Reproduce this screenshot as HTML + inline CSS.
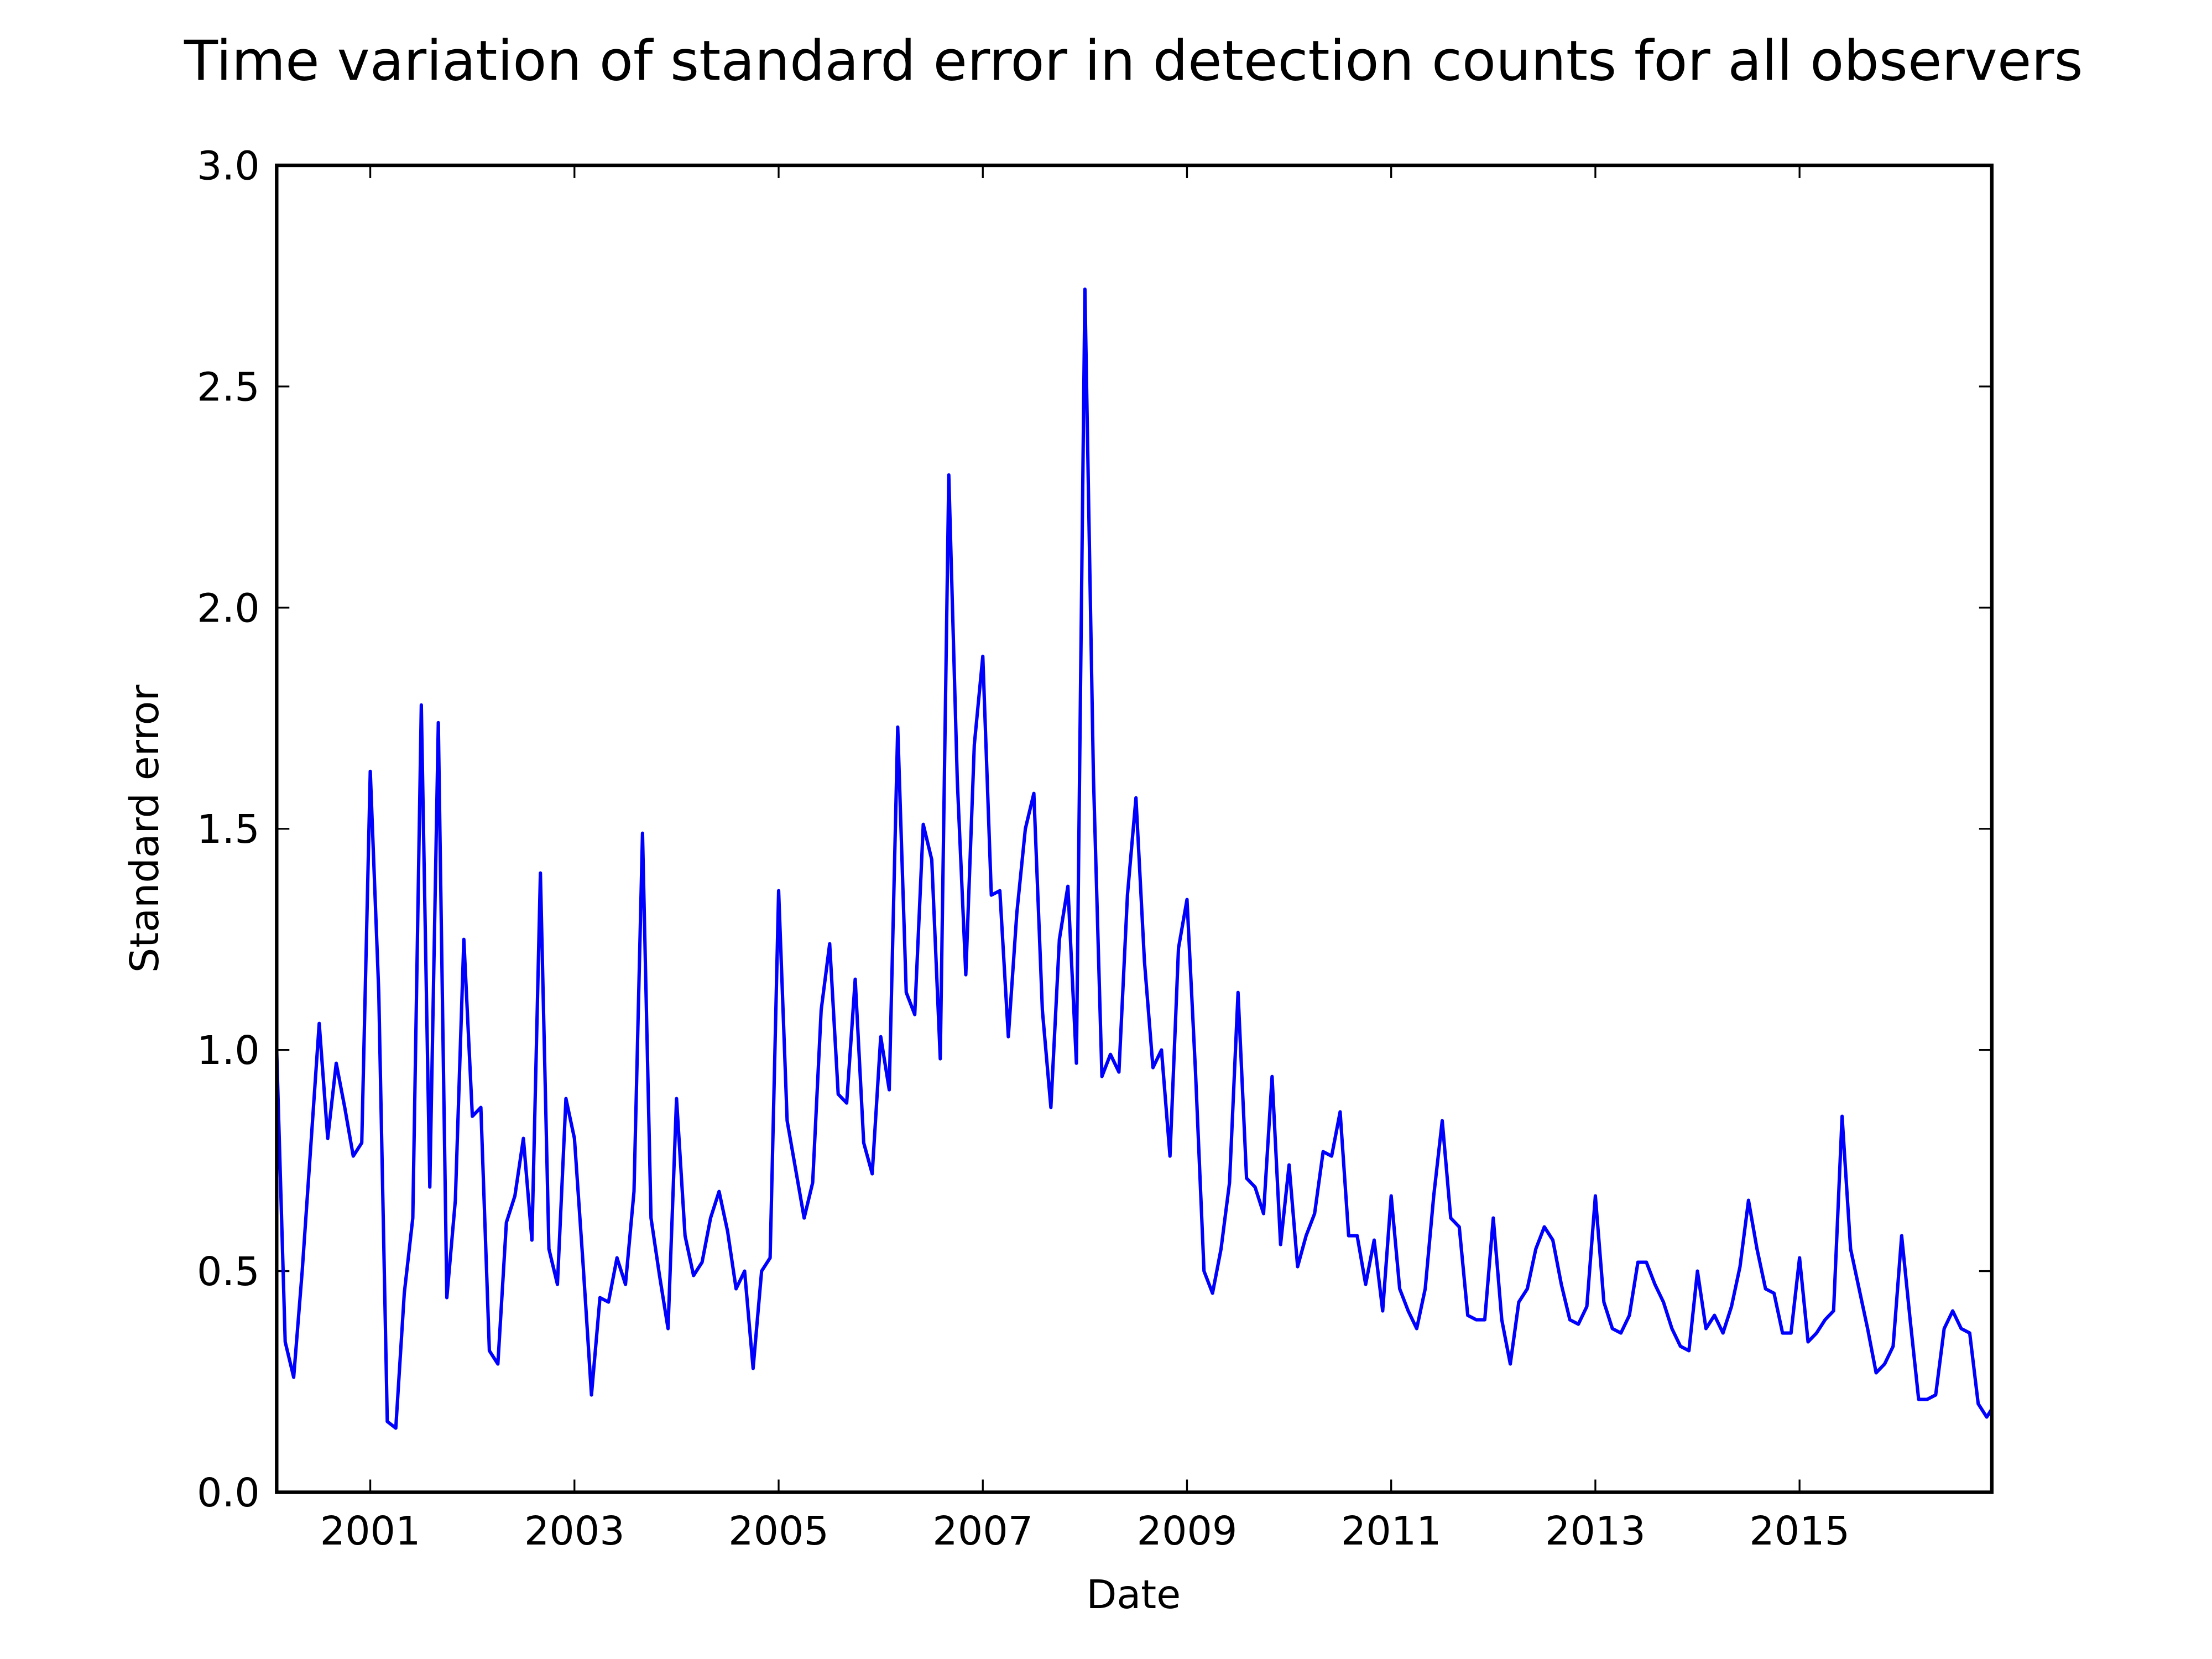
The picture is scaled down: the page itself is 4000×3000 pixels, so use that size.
<!DOCTYPE html>
<html><head><meta charset="utf-8"><style>
html,body{margin:0;padding:0;background:#fff;}
svg{display:block;}
text{font-family:"DejaVu Sans","Liberation Sans",sans-serif;fill:#000;}
</style></head><body>
<svg id="chart" width="4000" height="3000" viewBox="0 0 1567 1175" xmlns="http://www.w3.org/2000/svg">
<rect width="1567" height="1175" fill="#fff"/>
<text x="803" y="56.5" font-size="39.2" text-anchor="middle">Time variation of standard error in detection counts for all observers</text>
<text x="803" y="1139" font-size="28" text-anchor="middle">Date</text>
<text transform="translate(112,587) rotate(-90)" font-size="28" text-anchor="middle">Standard error</text>
<g id="ticks"></g>
<g id="series"></g>
<rect x="196" y="117" width="1215" height="940" fill="none" stroke="#000" stroke-width="2.5"/>
</svg>
<script>
const startYear = 2000 + 1/12;
const values = [1.0,0.34,0.26,0.5,0.78,1.06,0.80,0.97,0.87,0.76,0.79,1.63,1.13,0.16,0.145,0.45,0.62,1.78,0.69,1.74,0.44,0.66,1.25,0.85,0.87,0.32,0.29,0.61,0.67,0.80,0.57,1.40,0.55,0.47,0.89,0.80,0.52,0.22,0.44,0.43,0.53,0.47,0.68,1.49,0.62,0.49,0.37,0.89,0.58,0.49,0.52,0.62,0.68,0.59,0.46,0.50,0.28,0.50,0.53,1.36,0.84,0.73,0.62,0.70,1.09,1.24,0.90,0.88,1.16,0.79,0.72,1.03,0.91,1.73,1.13,1.08,1.51,1.43,0.98,2.30,1.61,1.17,1.69,1.89,1.35,1.36,1.03,1.31,1.50,1.58,1.09,0.87,1.25,1.37,0.97,2.72,1.62,0.94,0.99,0.95,1.35,1.57,1.20,0.96,1.00,0.76,1.23,1.34,0.95,0.50,0.45,0.55,0.70,1.13,0.71,0.69,0.63,0.94,0.56,0.74,0.51,0.58,0.63,0.77,0.76,0.86,0.58,0.58,0.47,0.57,0.41,0.67,0.46,0.41,0.37,0.46,0.67,0.84,0.62,0.60,0.40,0.39,0.39,0.62,0.39,0.29,0.43,0.46,0.55,0.60,0.57,0.47,0.39,0.38,0.42,0.67,0.43,0.37,0.36,0.40,0.52,0.52,0.47,0.43,0.37,0.33,0.32,0.50,0.37,0.40,0.36,0.42,0.51,0.66,0.55,0.46,0.45,0.36,0.36,0.53,0.34,0.36,0.39,0.41,0.85,0.55,0.46,0.37,0.27,0.29,0.33,0.58,0.39,0.21,0.21,0.22,0.37,0.41,0.37,0.36,0.20,0.17,0.20];
const xTickYears = [2001,2003,2005,2007,2009,2011,2013,2015];
const yTickValues = [0,0.5,1.0,1.5,2.0,2.5,3.0];
const yTickLabels = ["0.0","0.5","1.0","1.5","2.0","2.5","3.0"];

const X0=196,X1=1411,Y0=1057,Y1=117;
const xMin=startYear, xMax=2016.883, yMin=0, yMax=3;
function xs(t){return X0+(t-xMin)/(xMax-xMin)*(X1-X0);}
function ys(v){return Y0-(v-yMin)/(yMax-yMin)*(Y0-Y1);}
const NS="http://www.w3.org/2000/svg";
const tg=document.getElementById('ticks');
function mk(tag,attrs,parent){const e=document.createElementNS(NS,tag);for(const k in attrs)e.setAttribute(k,attrs[k]);parent.appendChild(e);return e;}
xTickYears.forEach(yr=>{
  const x=xs(yr);
  const t1=mk('line',{x1:x,x2:x,y1:Y0,y2:Y0-9,stroke:'#000','stroke-width':1.3},tg);
  
  
  const t2=mk('line',{x1:x,x2:x,y1:Y1,y2:Y1+9,stroke:'#000','stroke-width':1.3},tg);
  
  
  const lb=mk('text',{x:x,y:1094,'font-size':28,'text-anchor':'middle'},tg);
  lb.textContent=String(yr);
  
  
});
yTickValues.forEach((v,i)=>{
  const y=ys(v);
  const t1=mk('line',{x1:X0,x2:X0+9,y1:y,y2:y,stroke:'#000','stroke-width':1.3},tg);
  
  
  const t2=mk('line',{x1:X1,x2:X1-9,y1:y,y2:y,stroke:'#000','stroke-width':1.3},tg);
  
  
  const lb=mk('text',{x:184,y:y+10,'font-size':28,'text-anchor':'end'},tg);
  lb.textContent=yTickLabels[i];
  
  
});
const sg=document.getElementById('series');
mk('clipPath',{id:'clip'},sg).appendChild(document.createElementNS(NS,'rect'));
const cr=sg.querySelector('clipPath rect');cr.setAttribute('x',X0);cr.setAttribute('y',Y1);cr.setAttribute('width',X1-X0);cr.setAttribute('height',Y0-Y1);
const pts=values.map((v,i)=>xs(startYear+i/12).toFixed(2)+','+ys(v).toFixed(2)).join(' ');
const line=mk('polyline',{points:pts,fill:'none',stroke:'#0000ff','stroke-width':2.4,'stroke-linejoin':'round','clip-path':'url(#clip)'},sg);


</script>
</body></html>
